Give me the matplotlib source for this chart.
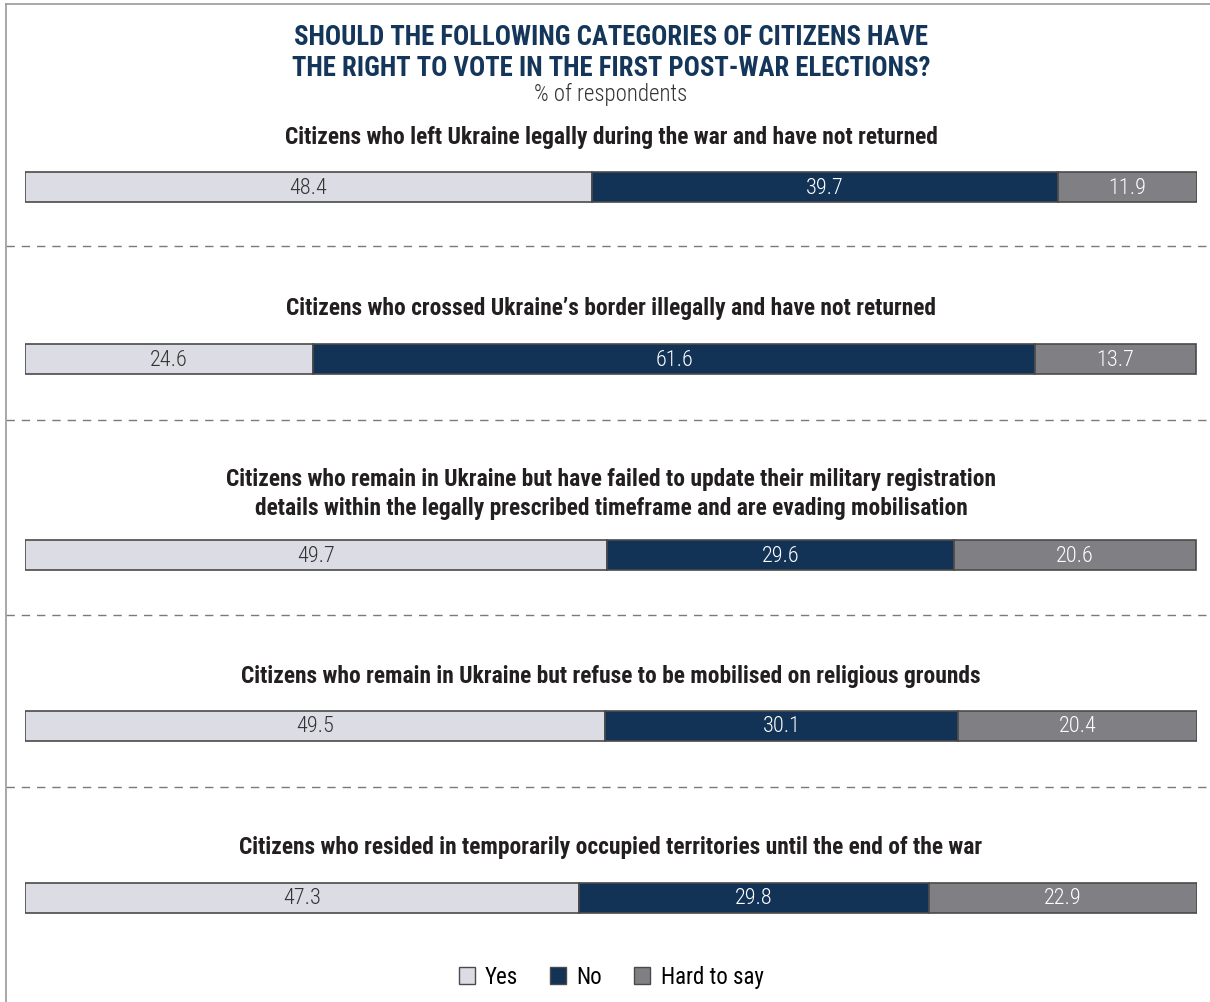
import matplotlib
matplotlib.use("Agg")
import matplotlib.pyplot as plt
from matplotlib.patches import Patch
from matplotlib.lines import Line2D

categories = [
    "Citizens who left Ukraine legally during the war and have not returned",
    "Citizens who crossed Ukraine\u2019s border illegally and have not returned",
    "Citizens who remain in Ukraine but have failed to update their military registration\n"
    "details within the legally prescribed timeframe and are evading mobilisation",
    "Citizens who remain in Ukraine but refuse to be mobilised on religious grounds",
    "Citizens who resided in temporarily occupied territories until the end of the war",
]
yes = [48.4, 24.6, 49.7, 49.5, 47.3]
no = [39.7, 61.6, 29.6, 30.1, 29.8]
hard = [11.9, 13.7, 20.6, 20.4, 22.9]
series_names = ["Yes", "No", "Hard to say"]

colors = ["#dcdce4", "#133356", "#808084"]
text_colors = ["#333333", "white", "white"]
edge = "#4a4a4a"

W, H = 1210, 1003
fig = plt.figure(figsize=(W / 100, H / 100), dpi=100)

fam = ["Roboto Condensed", "Roboto", "DejaVu Sans"]

# axes in pixel-ish y units (0 at top), x in percent
ax = fig.add_axes([25 / W, 0, (1197 - 25) / W, 1])
ax.set_xlim(0, 100)
ax.set_ylim(H, 0)
ax.axis("off")

bar_y = [188, 360, 556, 727, 899]
label_y = [137, 308, 494, 676, 848]
sep_y = [247, 421, 616, 788]

for vals_i, (vals, col, tcol) in enumerate(zip([yes, no, hard], colors, text_colors)):
    left = [sum(v[:vals_i]) for v in zip(yes, no, hard)]
    ax.barh(bar_y, vals, left=left, height=30, color=col, edgecolor=edge, linewidth=1.2)
    for y, l, v in zip(bar_y, left, vals):
        ax.text(l + v / 2, y, f"{v}", ha="center", va="center", color=tcol,
                fontsize=16, family=fam, fontweight="light")

for y, lab in zip(label_y, categories):
    ax.text(50, y, lab, ha="center", va="center", fontsize=16.9, fontweight="bold",
            color="#231f20", family=fam, linespacing=1.3)

# dashed separators across the frame
for y in sep_y:
    fig.add_artist(Line2D([6 / W, 1], [1 - y / H, 1 - y / H], color="#7a7a7a",
                          linestyle=(0, (6, 5)), linewidth=1))

# frame lines at left and top
fig.add_artist(Line2D([6 / W, 6 / W], [0, 1 - 5 / H], color="#9a9a9a", linewidth=1.2))
fig.add_artist(Line2D([6 / W, 1], [1 - 5 / H, 1 - 5 / H], color="#9a9a9a", linewidth=1.2))

fig.text(611 / W, 1 - 53 / H,
         "SHOULD THE FOLLOWING CATEGORIES OF CITIZENS HAVE\nTHE RIGHT TO VOTE IN THE FIRST POST-WAR ELECTIONS?",
         ha="center", va="center", fontsize=19.3, fontweight="bold", color="#14365a",
         family=fam, linespacing=1.2)
fig.text(611 / W, 1 - 94 / H, "% of respondents", ha="center", va="center",
         fontsize=16.5, color="#333333", family=fam, fontweight="light")

handles = [Patch(facecolor=c, edgecolor=edge, label=n) for c, n in zip(colors, series_names)]
fig.legend(handles=handles, loc="center", bbox_to_anchor=(611 / W, 1 - 978 / H), ncol=3,
           frameon=False, prop={"family": fam, "size": 16.5},
           handlelength=0.7, handleheight=0.7, handletextpad=0.45, columnspacing=1.4)

fig.savefig("out.png", dpi=100)
